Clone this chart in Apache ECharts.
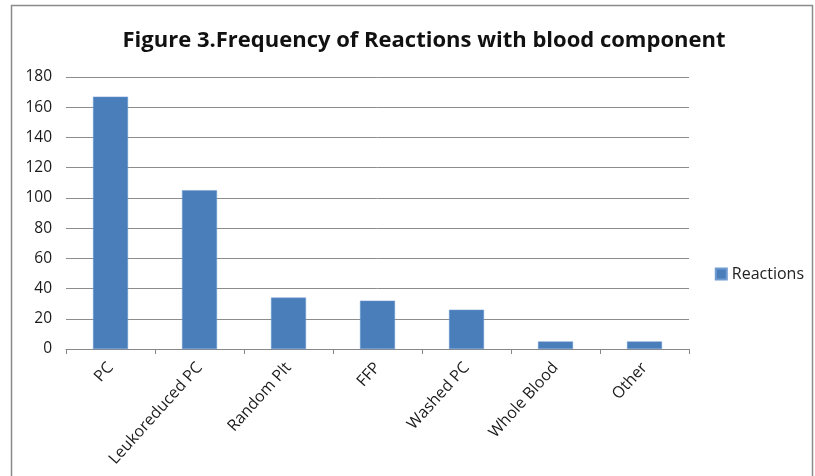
<!DOCTYPE html>
<html>
<head>
<meta charset="utf-8">
<script src="https://cdn.jsdelivr.net/npm/echarts@6/dist/echarts.min.js"></script>
<style>html,body{margin:0;padding:0;background:#fff}#c{width:815px;height:476px}</style>
</head>
<body>
<div id="c"></div>
<script>
const categories = ['PC', 'Leukoreduced PC', 'Random Plt', 'FFP', 'Washed PC', 'Whole Blood', 'Other'];
const reactions = [167, 105, 34, 32, 26, 5, 5];
const seriesName = 'Reactions';
const titleText = 'Figure 3.Frequency of Reactions with blood component';

const chart = echarts.init(document.getElementById('c'));
const font = '"Open Sans", "Liberation Sans", sans-serif';
chart.setOption({
  animation: false,
  title: {
    text: titleText, left: 419, top: 25, textAlign: 'center',
    textStyle: { fontFamily: font, fontSize: 22, fontWeight: 'bold', color: '#111' }
  },
  graphic: [{ type: 'rect', shape: { x: 11.5, y: 5.5, width: 801, height: 480 },
    style: { fill: 'none', stroke: '#8a8a8a', lineWidth: 1.5 } }],
  legend: {
    data: [seriesName], right: 6, top: 261, icon: 'rect', itemWidth: 11, itemHeight: 11, itemGap: 4,
    textStyle: { fontFamily: font, fontSize: 16, color: '#222' }
  },
  grid: { left: 66, right: 126, top: 77, bottom: 127 },
  xAxis: {
    type: 'category', data: categories,
    axisLine: { lineStyle: { color: '#888' } },
    axisTick: { show: true, length: 5, lineStyle: { color: '#888' } },
    axisLabel: { rotate: 48, fontFamily: font, fontSize: 16, color: '#1a1a1a', margin: 16 }
  },
  yAxis: {
    type: 'value', min: 0, max: 180, interval: 20,
    axisLine: { show: false }, axisTick: { show: false },
    splitLine: { lineStyle: { color: '#8c8c8c' } },
    axisLabel: { fontFamily: font, fontSize: 15.5, color: '#1a1a1a', margin: 14 }
  },
  series: [{
    name: seriesName, type: 'bar', data: reactions, barWidth: 35,
    itemStyle: { color: '#4a7ebb', borderColor: '#6f9bd1', borderWidth: 0.5 }
  }]
});
</script>
</body>
</html>
